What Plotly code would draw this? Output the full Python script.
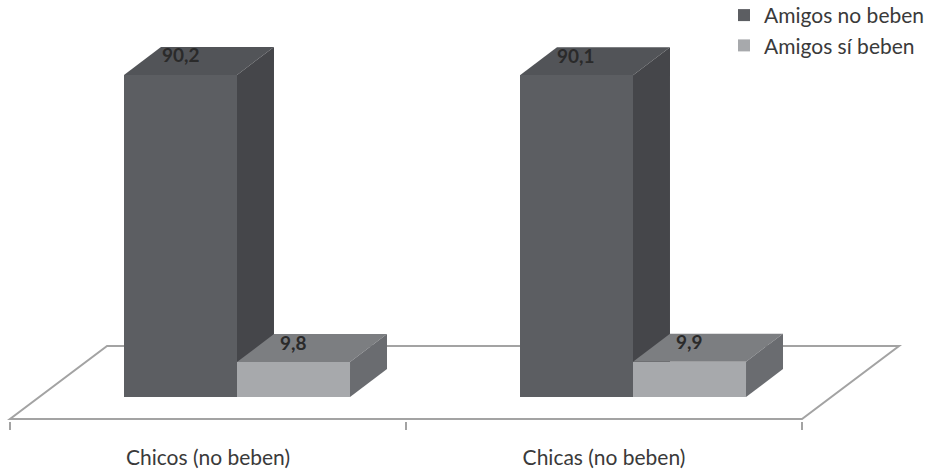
import plotly.graph_objects as go

# ---- data ----
categories = ["Chicos (no beben)", "Chicas (no beben)"]
series_names = ["Amigos no beben", "Amigos sí beben"]
no_beben = [90.2, 90.1]
si_beben = [9.8, 9.9]

# ---- style ----
FONT = "Lato"
front_cols = ["#5c5e62", "#a7a9ac"]
top_cols = ["#525458", "#7c7e81"]
side_cols = ["#45464a", "#6a6c70"]
floor_line = "#a3a3a3"

bw = 0.2854          # bar width (category units)
dx, dy = 0.0934, 7.84  # bar depth offsets
fs = 0.0732          # floor shift
fdx, fdy = 0.245, 20.45  # floor depth
floor_y = -6.16

fig = go.Figure()
series = [no_beben, si_beben]
offsets = [-bw / 2, bw / 2]
for name, vals, off, col in zip(series_names, series, offsets, front_cols):
    fig.add_trace(go.Bar(
        x=[i + off for i in range(len(categories))], y=vals, width=bw,
        name=name, marker=dict(color=col, line=dict(width=0)),
        legendgroup=name, hoverinfo="y",
    ))

shapes = []
n = len(categories)
fx0, fx1 = -0.5 - fs, n - 0.5 - fs
shapes.append(dict(
    type="path", xref="x", yref="y", layer="below",
    path=f"M{fx0},{floor_y} L{fx1},{floor_y} L{fx1 + fdx},{floor_y + fdy} L{fx0 + fdx},{floor_y + fdy} Z",
    line=dict(color=floor_line, width=2), fillcolor="white",
))
annotations = []
for i in range(n):
    for s, (vals, off) in enumerate(zip(series, offsets)):
        v = vals[i]
        c = i + off
        l, r = c - bw / 2, c + bw / 2
        shapes.append(dict(
            type="path", xref="x", yref="y", layer="below",
            path=f"M{l},{v} L{r},{v} L{r + dx},{v + dy} L{l + dx},{v + dy} Z",
            line=dict(width=0), fillcolor=top_cols[s],
        ))
        shapes.append(dict(
            type="path", xref="x", yref="y", layer="below",
            path=f"M{r},0 L{r},{v} L{r + dx},{v + dy} L{r + dx},{dy} Z",
            line=dict(width=0), fillcolor=side_cols[s],
        ))
        annotations.append(dict(
            x=c, y=v + 5.6, xref="x", yref="y", showarrow=False,
            text=f"{v:.1f}".replace(".", ","),
            font=dict(family=FONT, size=19, color="#2a2a2a", weight="bold"),
        ))

fig.update_layout(
    width=930, height=472,
    margin=dict(l=0, r=0, t=0, b=51, autoexpand=False),
    paper_bgcolor="white", plot_bgcolor="white",
    barmode="overlay", bargap=0,
    shapes=shapes, annotations=annotations,
    showlegend=True,
    legend=dict(x=1, xanchor="right", y=1.012, yanchor="top",
                font=dict(family=FONT, size=21, color="#3a3a3a"),
                bgcolor="rgba(0,0,0,0)", tracegroupgap=0),
    xaxis=dict(range=[-0.5985, 1.75], showgrid=False, zeroline=False, showline=False,
               automargin=False,
               tickmode="array", tickvals=[i - fs for i in range(n)], ticktext=categories,
               ticks="outside", ticklen=18, tickcolor="rgba(0,0,0,0)",
               tickfont=dict(family=FONT, size=21, color="#3a3a3a"),
               minor=dict(tickmode="array", tickvals=[k - 0.5 - fs for k in range(n + 1)],
                          ticks="outside", ticklen=8, tickcolor=floor_line, tickwidth=2,
                          showgrid=False)),
    yaxis=dict(range=[-6.72, 111.2], visible=False, showgrid=False, zeroline=False,
               automargin=False),
)

fig.write_html("out.html")
